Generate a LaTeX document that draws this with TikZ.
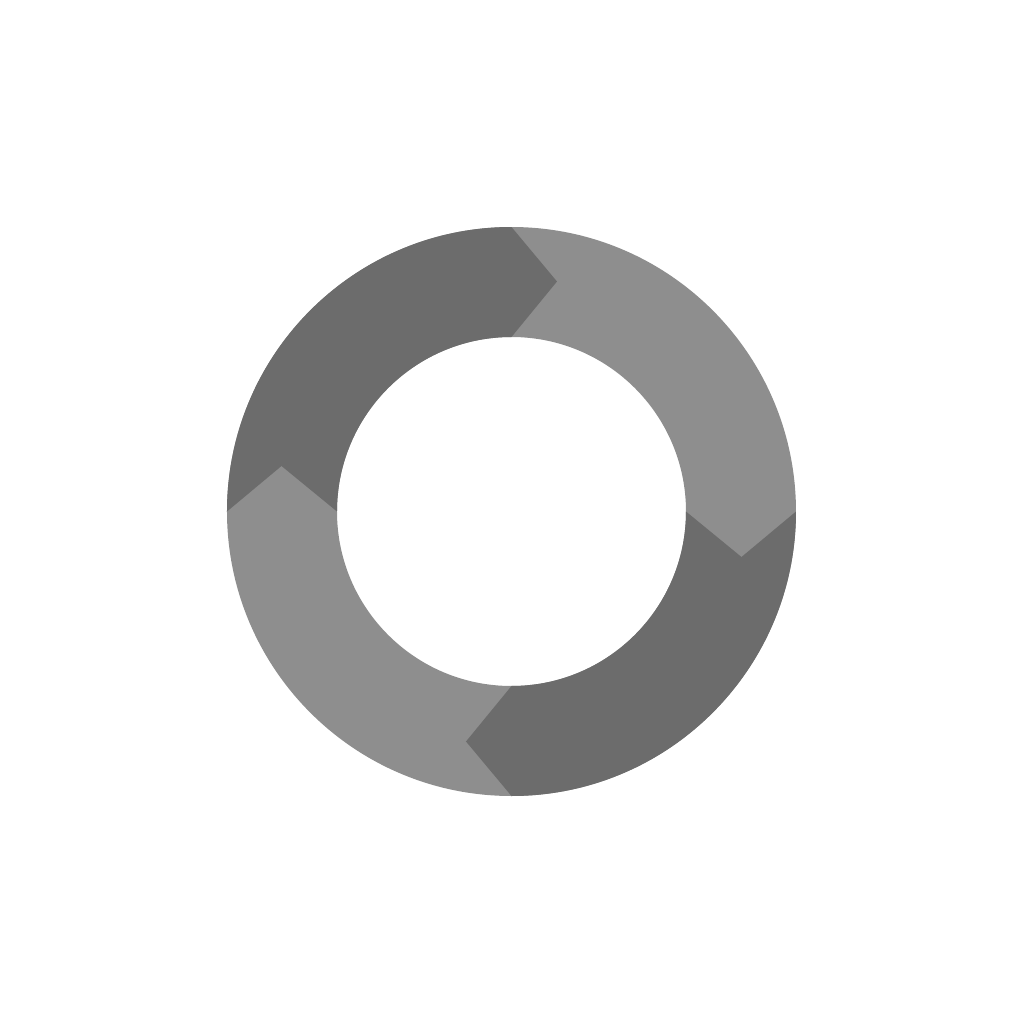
\documentclass[tikz,border=0pt]{standalone}
\definecolor{ringdark}{HTML}{6C6C6C}
\definecolor{ringlight}{HTML}{8E8E8E}
\begin{document}
\begin{tikzpicture}
\useasboundingbox (-5.115,-5.125) rectangle (5.125,5.115);
\fill[ringlight,even odd rule] (0,0) circle (2.845) (0,0) circle (1.745);
\foreach \ang in {90,270}{
        \fill[ringdark,rotate=\ang] (0,2.845) arc (90:0:2.845)
                -- (2.30,-0.455) -- (1.745,0)
                arc (0:90:1.745)
                -- (0.455,2.30) -- cycle;
}
\end{tikzpicture}
\end{document}
